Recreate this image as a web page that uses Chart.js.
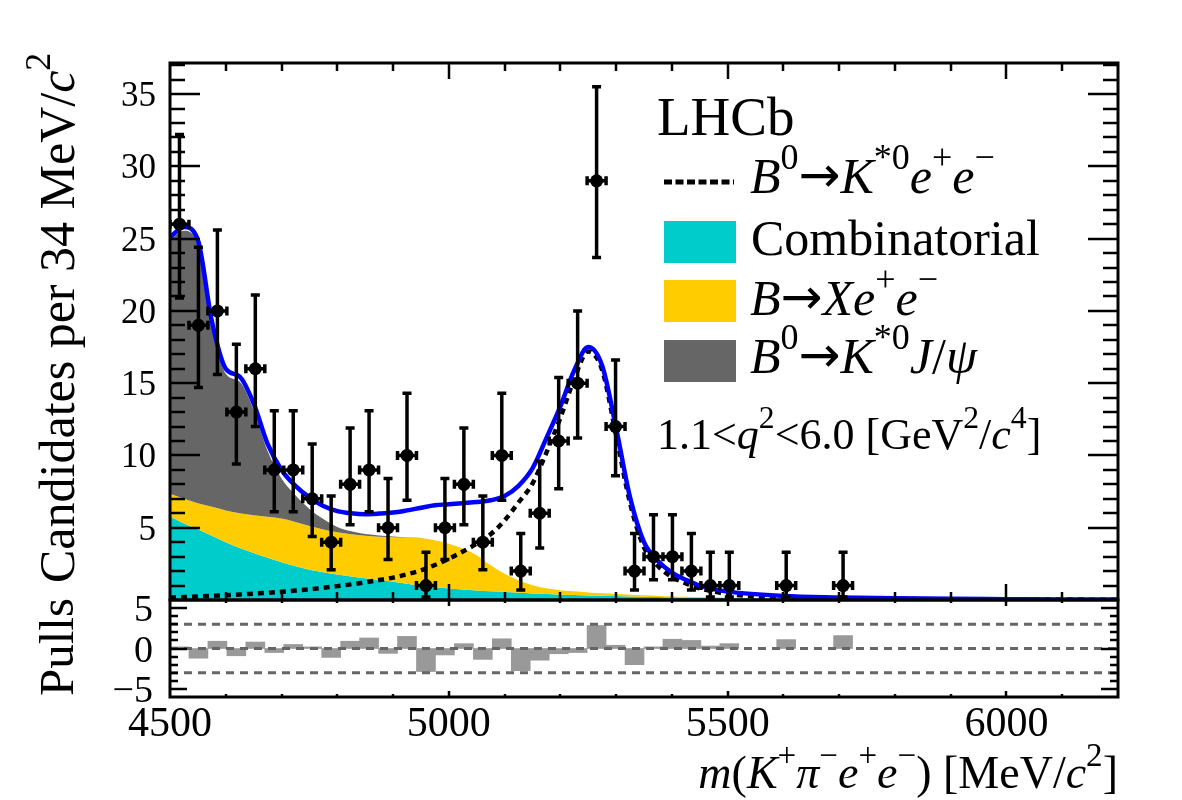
<!DOCTYPE html>
<html>
<head>
<meta charset="utf-8">
<script src="https://cdn.jsdelivr.net/npm/chart.js@4/dist/chart.umd.min.js"></script>
<style>
  body { margin: 0; background: #fff; }
  #wrap { position: relative; width: 1182px; height: 800px; overflow: hidden;
          font-family: "Liberation Serif", "Times New Roman", serif; color: #000; }
  canvas { position: absolute; left: 0; top: 0; }
  .layer { position: absolute; left: 0; top: 0; width: 1182px; height: 800px; }
  .t, .tick { position: absolute; white-space: nowrap; line-height: 1; }
  sup { font-size: 0.72em; vertical-align: baseline; position: relative; top: -0.66em; }
  .ar { font-family: "DejaVu Sans", sans-serif; font-size: 1em; position: relative; top: -0.02em; }
  .box { position: absolute; width: 72px; height: 42px; }
</style>
</head>
<body>
<div id="wrap">
  <canvas id="main" width="1182" height="800"></canvas>
  <canvas id="pull" width="1182" height="800"></canvas>
  <div class="layer" id="mainTicks"></div>
  <div class="layer" id="pullTicks"></div>

  <div class="t" id="ytitle" style="left:32px; top:583px; width:520px; text-align:right; font-size:50px; transform-origin:0 0; transform:rotate(-90deg);">Candidates per 34 MeV/<i>c</i><sup>2</sup></div>
  <div class="t" id="ptitle" style="left:32px; top:696px; width:130px; text-align:left; font-size:49px; transform-origin:0 0; transform:rotate(-90deg);">Pulls</div>
  <div class="t" id="xtitle" style="right:64px; top:750px; font-size:46px;"><i>m</i>(<i>K</i><sup>+</sup><i>π</i><sup>−</sup><i>e</i><sup>+</sup><i>e</i><sup>−</sup>) [MeV/<i>c</i><sup>2</sup>]</div>

  <div class="t" style="left:657px; top:89px; font-size:55px;">LHCb</div>
  <svg style="position:absolute; left:664px; top:175px;" width="72" height="14">
    <line x1="0" y1="7" x2="70" y2="7" stroke="#000" stroke-width="5" stroke-dasharray="8 3.5"/>
  </svg>
  <div class="t" style="left:750px; top:151px; font-size:50px;"><i>B</i><sup>0</sup><span class="ar">→</span><i>K</i><sup>*0</sup><i>e</i><sup>+</sup><i>e</i><sup>−</sup></div>
  <div class="box" style="left:664px; top:221px; background:#00cccc;"></div>
  <div class="t" style="left:751px; top:213px; font-size:50px;">Combinatorial</div>
  <div class="box" style="left:664px; top:280px; background:#ffcc00;"></div>
  <div class="t" style="left:750px; top:273px; font-size:50px;"><i>B</i><span class="ar">→</span><i>X</i><i>e</i><sup>+</sup><i>e</i><sup>−</sup></div>
  <div class="box" style="left:664px; top:340px; background:#666666;"></div>
  <div class="t" style="left:750px; top:331px; font-size:50px;"><i>B</i><sup>0</sup><span class="ar">→</span><i>K</i><sup>*0</sup><i>J</i>/<i>ψ</i></div>
  <div class="t" style="left:657px; top:413px; font-size:44px;">1.1&lt;<i>q</i><sup>2</sup>&lt;6.0 [GeV<sup>2</sup>/<i>c</i><sup>4</sup>]</div>
</div>

<script>
// data points (non-empty 34 MeV bins)
const binCenters = [4517, 4551, 4585, 4619, 4653, 4687, 4721, 4755, 4789, 4823, 4857, 4891, 4925, 4959, 4993, 5027,
                    5061, 5095, 5129, 5163, 5197, 5231, 5265, 5299, 5333, 5367, 5401, 5435, 5469, 5503, 5605, 5707];
const counts  = [26, 19, 20, 13, 16, 9, 9, 7, 4, 8, 9, 5, 10, 1, 5, 8, 4, 10, 2, 6, 11, 15, 29, 12, 2, 3, 3, 2, 1, 1, 1, 1];
const errDown = [5.1, 4.3, 4.4, 3.6, 4.0, 2.9, 2.9, 2.6, 1.9, 2.8, 2.9, 2.2, 3.1, 0.8, 2.2, 2.8,
                 1.9, 3.1, 1.3, 2.4, 3.3, 3.8, 5.3, 3.4, 1.3, 1.6, 1.6, 1.3, 0.8, 0.8, 0.8, 0.8];
const errUp   = [6.2, 5.4, 5.6, 4.7, 5.1, 4.1, 4.1, 3.8, 3.2, 3.9, 4.1, 3.4, 4.3, 2.3, 3.4, 3.9,
                 3.2, 4.3, 2.6, 3.6, 4.4, 5.0, 6.5, 4.6, 2.6, 2.9, 2.9, 2.6, 2.3, 2.3, 2.3, 2.3];
const pulls   = [0.2, -1.2, 0.9, -0.9, 0.8, -0.5, 0.5, 0.2, -1.1, 0.9, 1.3, -0.6, 1.5, -2.85, -0.8, 0.6,
                 -1.35, 1.2, -2.75, -1.45, -0.65, -0.5, 2.85, 0.4, -2.0, 0.2, 1.15, 1.0, 0.3, 0.6, 1.1, 1.6];
const binHalf = 17;

// fit curves (upper edges of the stacked components, plus total and signal)
const curveX = [4500, 4525, 4550, 4575, 4600, 4625, 4650, 4675, 4700, 4725, 4750, 4775, 4800, 4825, 4850, 4875,
                4900, 4925, 4950, 4975, 5000, 5025, 5050, 5075, 5100, 5125, 5150, 5175, 5200, 5225, 5250, 5275,
                5300, 5325, 5350, 5375, 5400, 5425, 5450, 5475, 5500, 5600, 5700, 5800, 5900, 6000, 6100, 6200];
const combTop = [5.8, 5.3, 4.9, 4.45, 4.0, 3.6, 3.25, 2.92, 2.62, 2.34, 2.1, 1.92, 1.76, 1.62, 1.5, 1.38,
                 1.26, 1.13, 1.0, 0.88, 0.8, 0.72, 0.66, 0.6, 0.55, 0.5, 0.45, 0.41, 0.37, 0.34, 0.31, 0.29,
                 0.27, 0.25, 0.23, 0.21, 0.19, 0.17, 0.16, 0.15, 0.14, 0.1, 0.07, 0.05, 0.04, 0.03, 0.02, 0.02];
const xeeTop  = [7.35, 7.0, 6.7, 6.45, 6.2, 6.0, 5.87, 5.76, 5.63, 5.4, 5.12, 4.88, 4.68, 4.54, 4.44, 4.38,
                 4.34, 4.32, 4.28, 4.14, 3.9, 3.56, 3.1, 2.4, 1.82, 1.36, 1.02, 0.82, 0.68, 0.6, 0.52, 0.46,
                 0.41, 0.36, 0.32, 0.28, 0.25, 0.22, 0.2, 0.18, 0.16, 0.11, 0.08, 0.05, 0.04, 0.03, 0.02, 0.02];
const jpsiTop = [24.9, 25.55, 24.6, 19.0, 15.65, 15.1, 13.15, 10.3, 8.4, 7.25, 6.3, 5.6, 5.05, 4.75, 4.57, 4.47,
                 4.4, 4.34, 4.29, 4.14, 3.9, 3.56, 3.1, 2.4, 1.82, 1.36, 1.02, 0.82, 0.68, 0.6, 0.52, 0.46,
                 0.41, 0.36, 0.32, 0.28, 0.25, 0.22, 0.2, 0.18, 0.16, 0.11, 0.08, 0.05, 0.04, 0.03, 0.02, 0.02];
const totalFit = [25.1, 25.8, 24.9, 19.3, 16.0, 15.45, 13.6, 10.8, 9.0, 7.9, 7.1, 6.5, 6.15, 6.0, 5.94, 5.98,
                  6.05, 6.2, 6.38, 6.55, 6.62, 6.7, 6.78, 6.9, 7.2, 7.9, 9.1, 11.2, 13.4, 15.9, 17.5, 16.2,
                  11.9, 7.1, 4.0, 2.7, 1.9, 1.4, 1.0, 0.75, 0.58, 0.28, 0.18, 0.12, 0.08, 0.06, 0.04, 0.03];
const signal  = [0.17, 0.2, 0.24, 0.28, 0.33, 0.38, 0.44, 0.5, 0.57, 0.65, 0.74, 0.84, 0.96, 1.08, 1.22, 1.38,
                 1.55, 1.78, 2.05, 2.42, 2.85, 3.35, 3.9, 4.55, 5.5, 6.75, 8.05, 10.2, 12.6, 15.3, 17.2, 15.9,
                 11.4, 6.7, 3.65, 2.35, 1.6, 1.15, 0.8, 0.58, 0.42, 0.17, 0.1, 0.07, 0.05, 0.04, 0.03, 0.02];

// axes
const xRange = [4500, 6200];
const xTicks = [4500, 5000, 5500, 6000];
const yRange = [0, 37.15];
const yTicks = [5, 10, 15, 20, 25, 30, 35];
const pullRange = [-6, 6];
const pullTicks = [-5, 0, 5];
const pullLines = [-3, 0, 3];

// where each chart puts its tick labels (HTML text placed from the chart's scales)
const tickSpecs = {
  main: { layer: 'mainTicks', axes: [{ id: 'y', values: yTicks, size: 35, pad: 14 }] },
  pull: { layer: 'pullTicks', axes: [{ id: 'y', values: pullTicks, size: 38, pad: 17 },
                                     { id: 'x', values: xTicks, size: 42, pad: 4 }] }
};

const pts = (xs, ys) => xs.map((x, i) => ({ x: x, y: ys[i] }));
const plain = v => (v < 0 ? '\u2212' + Math.abs(v) : String(v));

// ROOT-like frame with ticks pointing inwards
const framePlugin = {
  id: 'frame',
  afterDraw(chart, args, o) {
    const { ctx, chartArea: a, scales: { x, y } } = chart;
    ctx.save();
    ctx.strokeStyle = '#000';
    ctx.lineWidth = 2.5;
    ctx.beginPath();
    const yStep = Math.round(o.yMajor / o.yMinor);
    for (let k = Math.ceil(y.min / o.yMinor); k * o.yMinor < y.max; k++) {
      const v = k * o.yMinor;
      if (v <= y.min) continue;
      const len = (k % yStep === 0) ? o.yMajLen : o.yMinLen;
      const py = Math.round(y.getPixelForValue(v));
      ctx.moveTo(a.left, py); ctx.lineTo(a.left + len, py);
      ctx.moveTo(a.right, py); ctx.lineTo(a.right - len, py);
    }
    const xStep = Math.round(o.xMajor / o.xMinor);
    for (let k = Math.ceil(x.min / o.xMinor); k * o.xMinor < x.max; k++) {
      const v = k * o.xMinor;
      if (v <= x.min) continue;
      const len = (k % xStep === 0) ? o.xMajLen : o.xMinLen;
      const px = Math.round(x.getPixelForValue(v));
      ctx.moveTo(px, a.bottom); ctx.lineTo(px, a.bottom - len);
      ctx.moveTo(px, a.top); ctx.lineTo(px, a.top + len);
    }
    ctx.stroke();
    ctx.lineWidth = 3;
    ctx.strokeRect(a.left, a.top, a.right - a.left, a.bottom - a.top);
    ctx.restore();
  }
};

// tick labels as page text, in the serif face the canvas does not pick up
const htmlTicksPlugin = {
  id: 'htmlTicks',
  afterDraw(chart) {
    const spec = tickSpecs[chart.canvas.id];
    if (!spec) return;
    const layer = document.getElementById(spec.layer);
    layer.innerHTML = '';
    const a = chart.chartArea;
    spec.axes.forEach(ax => {
      const scale = chart.scales[ax.id];
      ax.values.forEach(v => {
        const d = document.createElement('div');
        d.className = 'tick';
        d.textContent = plain(v);
        d.style.fontSize = ax.size + 'px';
        if (ax.id === 'y') {
          d.style.right = (chart.width - a.left + ax.pad) + 'px';
          d.style.top = scale.getPixelForValue(v) + 'px';
          d.style.transform = 'translateY(-50%)';
        } else {
          d.style.left = scale.getPixelForValue(v) + 'px';
          d.style.top = (a.bottom + ax.pad) + 'px';
          d.style.transform = 'translateX(-50%)';
        }
        layer.appendChild(d);
      });
    });
  }
};

// vertical Poisson errors and horizontal bin-width bars
const errorBarPlugin = {
  id: 'errorBars',
  afterDatasetsDraw(chart, args, o) {
    if (!o.enabled) return;
    const { ctx, chartArea: a, scales: { x, y } } = chart;
    ctx.save();
    ctx.beginPath();
    ctx.rect(a.left, a.top, a.right - a.left, a.bottom - a.top);
    ctx.clip();
    ctx.strokeStyle = '#000';
    ctx.lineWidth = 3.5;
    ctx.beginPath();
    binCenters.forEach((c, i) => {
      const px = x.getPixelForValue(c);
      const py = y.getPixelForValue(counts[i]);
      const top = y.getPixelForValue(counts[i] + errUp[i]);
      const bot = y.getPixelForValue(counts[i] - errDown[i]);
      const xl = x.getPixelForValue(c - binHalf);
      const xr = x.getPixelForValue(c + binHalf);
      ctx.moveTo(px, top); ctx.lineTo(px, bot);
      ctx.moveTo(px - 4.5, top); ctx.lineTo(px + 4.5, top);
      ctx.moveTo(px - 4.5, bot); ctx.lineTo(px + 4.5, bot);
      ctx.moveTo(xl, py); ctx.lineTo(xr, py);
      ctx.moveTo(xl, py - 4.5); ctx.lineTo(xl, py + 4.5);
      ctx.moveTo(xr, py - 4.5); ctx.lineTo(xr, py + 4.5);
    });
    ctx.stroke();
    ctx.restore();
  }
};

Chart.register(framePlugin, htmlTicksPlugin, errorBarPlugin);

const curve = { pointRadius: 0, cubicInterpolationMode: 'monotone' };
const hiddenTicks = { display: false };

new Chart(document.getElementById('main'), {
  type: 'line',
  data: {
    datasets: [
      { label: 'Data', data: pts(binCenters, counts), showLine: false, pointRadius: 6.5,
        pointBackgroundColor: '#000', pointBorderWidth: 0, pointHoverRadius: 6.5, order: 0 },
      { label: 'Total', data: pts(curveX, totalFit), borderColor: '#0000ff', borderWidth: 4.5, fill: false, order: 1, ...curve },
      { label: 'B0 -> K*0 e+ e-', data: pts(curveX, signal), borderColor: '#000', borderWidth: 4.5,
        borderDash: [6, 5], fill: false, order: 2, ...curve },
      { label: 'B0 -> K*0 J/psi', data: pts(curveX, jpsiTop), borderWidth: 0, borderColor: 'rgba(0,0,0,0)',
        backgroundColor: '#666666', fill: 4, order: 3, ...curve },
      { label: 'B -> X e+ e-', data: pts(curveX, xeeTop), borderWidth: 0, borderColor: 'rgba(0,0,0,0)',
        backgroundColor: '#ffcc00', fill: 5, order: 4, ...curve },
      { label: 'Combinatorial', data: pts(curveX, combTop), borderWidth: 0, borderColor: 'rgba(0,0,0,0)',
        backgroundColor: '#00cccc', fill: 'origin', order: 5, ...curve }
    ]
  },
  options: {
    responsive: false,
    animation: false,
    events: [],
    layout: { padding: { top: 63, right: 64, bottom: 200, left: 0 } },
    scales: {
      x: { type: 'linear', min: xRange[0], max: xRange[1], display: false },
      y: {
        type: 'linear', min: yRange[0], max: yRange[1],
        grid: { display: false, drawTicks: false },
        border: { display: false },
        ticks: hiddenTicks,
        afterFit: s => { s.width = 170; }
      }
    },
    plugins: {
      legend: { display: false },
      tooltip: { enabled: false },
      errorBars: { enabled: true },
      frame: { yMinor: 1, yMajor: 5, yMajLen: 30, yMinLen: 15, xMinor: 100, xMajor: 500, xMajLen: 16, xMinLen: 8 }
    }
  }
});

const refLine = y => ({
  type: 'line', data: xRange.map(x => ({ x: x, y: y })), borderColor: '#666666', borderWidth: 3,
  borderDash: [8, 6], pointRadius: 0, fill: false, order: 0
});

new Chart(document.getElementById('pull'), {
  type: 'bar',
  data: {
    datasets: [
      { label: 'Pulls', data: pts(binCenters, pulls), backgroundColor: '#999999', borderWidth: 0,
        barPercentage: 1, categoryPercentage: 1, order: 1 },
      ...pullLines.map(refLine)
    ]
  },
  options: {
    responsive: false,
    animation: false,
    events: [],
    layout: { padding: { top: 600, right: 64, bottom: 0, left: 0 } },
    scales: {
      x: {
        type: 'linear', min: xRange[0], max: xRange[1], offset: false,
        grid: { display: false, drawTicks: false },
        border: { display: false },
        ticks: hiddenTicks,
        afterFit: s => { s.height = 103; }
      },
      y: {
        type: 'linear', min: pullRange[0], max: pullRange[1],
        grid: { display: false, drawTicks: false },
        border: { display: false },
        ticks: hiddenTicks,
        afterFit: s => { s.width = 170; }
      }
    },
    plugins: {
      legend: { display: false },
      tooltip: { enabled: false },
      errorBars: { enabled: false },
      frame: { yMinor: 1, yMajor: 5, yMajLen: 17, yMinLen: 8, xMinor: 100, xMajor: 500, xMajLen: 6, xMinLen: 3 }
    }
  }
});
</script>
</body>
</html>
